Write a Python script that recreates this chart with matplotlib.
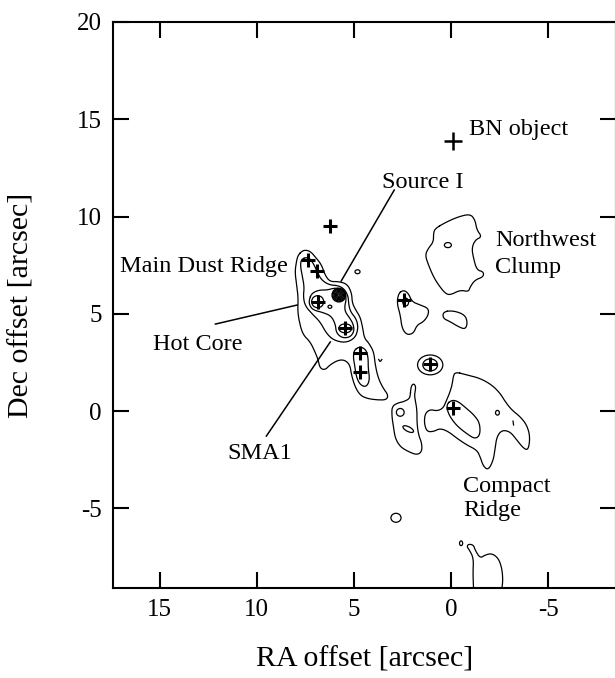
import matplotlib
matplotlib.use('Agg')
import matplotlib.pyplot as plt
import numpy as np
from matplotlib.patches import Ellipse

plt.rcParams['font.family'] = ['Liberation Serif', 'DejaVu Serif']
plt.rcParams['axes.unicode_minus'] = False

# contour outlines, (RA, Dec) in arcsec
ridge_outer = [(7.87, 8.02), (7.61, 8.28), (7.26, 8.23), (6.93, 7.85), (6.67, 7.51), (6.49, 6.99),
               (6.24, 6.65), (5.81, 6.66), (5.35, 6.53), (5.12, 6.07), (5.09, 5.55), (4.91, 5.19),
               (4.68, 4.83), (4.55, 4.27), (4.47, 3.75), (4.22, 3.47), (3.98, 3.03), (3.91, 2.37),
               (3.75, 1.68), (3.50, 1.17), (3.24, 0.82), (3.33, 0.57), (3.84, 0.57), (4.35, 0.65),
               (4.69, 0.82), (4.95, 1.25), (5.13, 1.85), (5.21, 2.37), (5.47, 2.62), (5.81, 2.62),
               (6.24, 2.37), (6.49, 2.11), (6.75, 2.20), (6.84, 2.62), (7.01, 3.05), (7.26, 3.56),
               (7.61, 3.91), (7.78, 4.42), (7.90, 5.11), (7.87, 5.79), (7.95, 6.48), (8.04, 7.16),
               (7.95, 7.76)]
ridge_mid = [(7.71, 7.81), (7.35, 7.92), (7.10, 7.61), (6.89, 7.15), (6.68, 6.74), (6.27, 6.48),
             (5.81, 6.45), (5.50, 6.27), (5.30, 5.91), (5.27, 5.45), (5.17, 5.09), (4.88, 4.73),
             (4.78, 4.27), (4.94, 3.75), (5.45, 3.50), (6.07, 3.65), (6.43, 4.01), (6.74, 4.58),
             (7.15, 4.99), (7.51, 5.40), (7.61, 5.86), (7.56, 6.38), (7.66, 6.94), (7.76, 7.46)]
ridge_inner = [(7.30, 5.76), (7.15, 6.07), (6.79, 6.22), (6.38, 6.22), (6.02, 6.32), (5.71, 6.30),
               (5.45, 6.09), (5.40, 5.71), (5.48, 5.40), (5.45, 5.09), (5.22, 4.78), (5.04, 4.47),
               (4.99, 4.11), (5.19, 3.80), (5.60, 3.75), (5.91, 4.01), (5.96, 4.47), (6.17, 4.88),
               (6.58, 5.06), (7.10, 5.19), (7.30, 5.45)]
ridge_south = [(4.99, 3.14), (4.68, 3.32), (4.37, 3.14), (4.27, 2.72), (4.27, 2.21), (4.19, 1.59),
               (4.37, 1.23), (4.68, 1.34), (4.88, 1.75), (4.96, 2.31), (5.04, 2.78)]
nw_clump = [(0.82, 9.39), (0.22, 9.73), (-0.38, 9.99), (-0.98, 10.13), (-1.23, 9.82), (-1.32, 9.31),
            (-1.58, 8.96), (-1.23, 8.79), (-1.06, 8.37), (-1.15, 7.85), (-1.32, 7.25), (-1.66, 7.16),
            (-1.66, 6.90), (-1.23, 6.74), (-0.98, 6.39), (-0.89, 6.13), (-0.46, 6.22), (0.05, 5.96),
            (0.31, 6.05), (0.65, 6.48), (0.91, 6.90), (1.17, 7.51), (1.34, 8.02), (1.17, 8.37),
            (0.91, 8.70), (0.91, 9.14)]
clump_east = [(2.71, 6.05), (2.45, 6.22), (2.20, 6.05), (2.02, 5.62), (1.59, 5.45), (1.17, 5.28),
              (1.17, 4.94), (1.42, 4.59), (1.76, 4.42), (1.94, 3.99), (2.28, 3.91), (2.53, 4.25),
              (2.62, 4.94), (2.79, 5.54)]
clump_west = [(0.40, 5.11), (-0.12, 5.16), (-0.72, 4.94), (-0.84, 4.51), (-0.72, 4.20), (-0.38, 4.33),
              (0.05, 4.59), (0.43, 4.77)]
compact_outer = [(-0.21, 2.01), (-0.82, 1.85), (-1.49, 1.68), (-2.09, 1.34), (-2.52, 0.91), (-2.78, 0.48),
                 (-3.12, 0.05), (-3.55, -0.29), (-3.89, -0.72), (-4.06, -1.32), (-3.97, -2.01),
                 (-3.72, -1.92), (-3.38, -1.49), (-3.03, -1.06), (-2.61, -0.98), (-2.35, -1.32),
                 (-2.26, -1.92), (-2.17, -2.52), (-1.92, -3.03), (-1.66, -2.86), (-1.49, -2.35),
                 (-1.32, -2.01), (-0.81, -1.75), (-0.29, -1.40), (0.14, -1.06), (0.57, -0.89),
                 (0.91, -1.06), (1.25, -1.06), (1.39, -0.62), (1.34, -0.12), (1.08, 0.08), (0.72, 0.00),
                 (0.41, 0.15), (0.26, 0.51), (0.10, 0.87), (-0.05, 1.34), (-0.10, 1.75)]
compact_inner = [(0.23, 0.36), (-0.05, 0.57), (-0.36, 0.49), (-0.77, 0.15), (-1.18, -0.21), (-1.47, -0.62),
                 (-1.49, -1.23), (-1.23, -1.44), (-0.82, -1.18), (-0.36, -0.82), (-0.05, -0.46),
                 (0.18, -0.05)]
spike_blob = [(2.11, 0.74), (2.07, 1.25), (1.94, 1.42), (1.81, 1.25), (1.89, 0.82), (1.85, 0.57),
              (1.76, 0.05), (1.76, -0.63), (1.68, -1.23), (1.51, -1.66), (1.51, -2.09), (1.76, -2.26),
              (2.20, -2.09), (2.62, -1.84), (2.88, -1.40), (2.97, -0.81), (3.05, -0.29), (3.05, 0.22),
              (2.79, 0.40), (2.45, 0.48), (2.20, 0.60)]
south_edge = [(-1.15, -9.12), (-1.12, -8.34), (-1.15, -7.57), (-0.94, -7.15), (-0.81, -6.98),
              (-0.89, -6.84), (-1.15, -6.89), (-1.23, -7.15), (-1.49, -7.57), (-1.75, -7.40),
              (-2.09, -7.32), (-2.43, -7.57), (-2.61, -8.09), (-2.66, -8.69), (-2.61, -9.12)]
v_mark = [(3.73, 2.65), (3.65, 2.52), (3.57, 2.65)]
dash_mark = [(-3.18, -0.52), (-3.21, -0.72)]

# small closed contours: RA, Dec, width, height, angle
small_ra = [6.87, 5.45, 6.24, 4.82, 0.17, 2.34, 1.08, 1.08, -2.38, 2.62, 2.21, 2.84, -0.51]
small_dec = [5.62, 4.25, 5.36, 7.16, 8.53, 5.60, 2.37, 2.37, -0.09, -0.07, -0.93, -5.49, -6.80]
small_w = [0.62, 0.66, 0.2, 0.26, 0.36, 0.3, 1.3, 0.76, 0.2, 0.4, 0.6, 0.52, 0.16]
small_h = [0.62, 0.46, 0.16, 0.2, 0.26, 0.4, 1.02, 0.62, 0.24, 0.4, 0.24, 0.46, 0.24]
small_ang = [0, 0, 0, 0, 0, 0, 0, 0, 0, 0, 27, 0, 0]

# Source I: tight concentric rings
srcI_ra, srcI_dec = 5.78, 5.96
srcI_radii = [0.06, 0.12, 0.18, 0.24, 0.30, 0.35]

# continuum peaks
peak_ra = [6.22, 7.37, 6.90, 6.87, 5.45, 4.68, 4.68, 2.45, 1.10, -0.09]
peak_dec = [9.51, 7.76, 7.21, 5.62, 4.25, 2.97, 2.02, 5.71, 2.40, 0.14]
bn_ra, bn_dec = -0.1, 13.9

# annotation text, placed at the baseline of its first line
labels = ['BN object', 'Source I', 'Northwest', 'Clump', 'Main Dust Ridge', 'Hot Core', 'SMA1',
          'Compact', 'Ridge']
label_ra = [-0.93, 3.55, -2.26, -2.26, 17.04, 15.32, 11.49, -0.63, -0.63]
label_dec = [14.19, 11.47, 8.48, 7.11, 7.15, 3.14, -2.47, -4.15, -5.40]

pointer_ra = [(2.93, 5.66), (12.13, 7.92), (9.51, 6.22)]
pointer_dec = [(11.36, 6.68), (4.47, 5.45), (-1.29, 3.55)]


def chaikin(pts, n=2, closed=True):
    p = np.asarray(pts, float)
    for _ in range(n):
        q = np.roll(p, -1, axis=0) if closed else p[1:]
        a = p if closed else p[:-1]
        new = np.empty((2 * len(a), 2))
        new[0::2] = 0.75 * a + 0.25 * q
        new[1::2] = 0.25 * a + 0.75 * q
        if not closed:
            new = np.vstack([p[:1], new, p[-1:]])
        p = new
    if closed:
        p = np.vstack([p, p[:1]])
    return p


fig = plt.figure(figsize=(6.15, 6.78), dpi=100)
ax = fig.add_axes([113 / 615, 1 - 588 / 678, 503 / 615, 566 / 678])

lw = 0.9
for c in [ridge_outer, ridge_mid, ridge_inner, ridge_south, nw_clump, clump_east, clump_west,
          compact_outer, compact_inner, spike_blob]:
    s = chaikin(c)
    ax.plot(s[:, 0], s[:, 1], color='k', lw=lw)

for c in [south_edge, v_mark, dash_mark]:
    s = chaikin(c, n=2, closed=False) if len(c) > 2 else np.asarray(c)
    ax.plot(s[:, 0], s[:, 1], color='k', lw=lw)

for i in range(len(small_ra)):
    ax.add_patch(Ellipse((small_ra[i], small_dec[i]), small_w[i], small_h[i], angle=small_ang[i],
                         fill=False, edgecolor='k', lw=lw))

for r in srcI_radii:
    ax.add_patch(Ellipse((srcI_ra, srcI_dec), 2 * r, 2 * r, fill=False, edgecolor='k', lw=1.0))

ax.plot(peak_ra, peak_dec, '+', color='k', ms=9.5, mew=2.2)
ax.plot([bn_ra], [bn_dec], '+', color='k', ms=12.5, mew=1.8)

for ra, dec in zip(pointer_ra, pointer_dec):
    ax.plot(ra, dec, color='k', lw=1.1)

for t, x, y in zip(labels, label_ra, label_dec):
    ax.text(x, y, t, fontsize=17.5, ha='left', va='baseline')

ax.set_xlim(17.4, -8.48)
ax.set_ylim(-9.1, 20.0)
ax.set_xticks([15, 10, 5, 0, -5])
ax.set_yticks([-5, 0, 5, 10, 15, 20])
ax.tick_params(direction='in', length=11.5, width=1.5, top=True, right=True, labelsize=18)
ax.tick_params(axis='x', pad=8)
ax.tick_params(axis='y', pad=8)
for sp in ax.spines.values():
    sp.set_linewidth(1.5)

ax.set_xlabel('RA offset [arcsec]', fontsize=21.5)
ax.set_ylabel('Dec offset [arcsec]', fontsize=21.5)
ax.xaxis.set_label_coords(0.5, -0.104)
ax.yaxis.set_label_coords(-0.157, 0.5)

fig.savefig('out.png', dpi=100)
